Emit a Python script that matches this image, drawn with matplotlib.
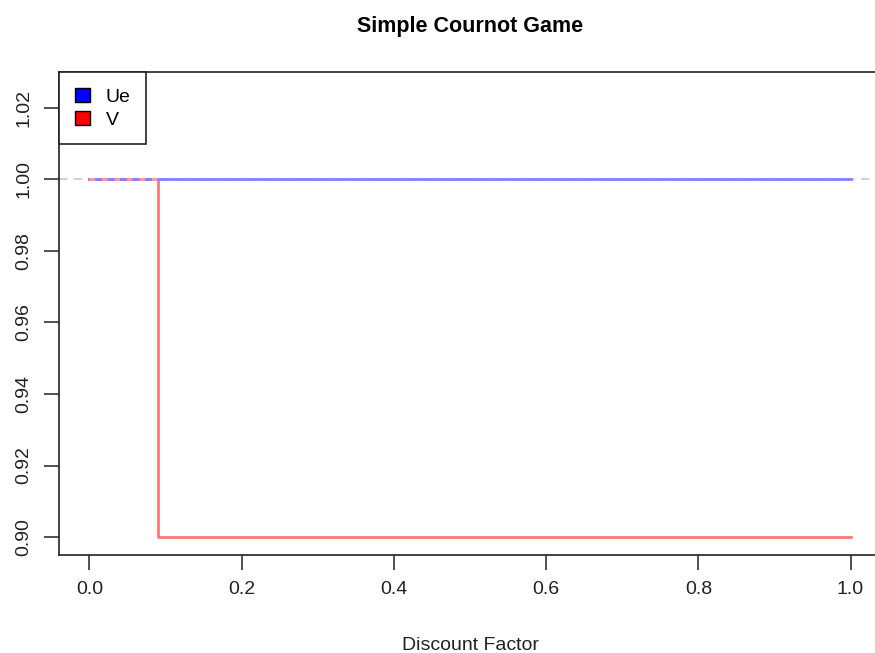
import numpy as np
import matplotlib.pyplot as plt
from matplotlib.patches import Patch

plt.rcParams['font.family'] = ['Liberation Sans', 'DejaVu Sans']

# data
ue_x = [0.0, 1.0]
ue_y = [1.0, 1.0]
v_x = [0.0, 0.09, 1.0]
v_y = [1.0, 0.9, 0.9]
x_ticks = [0.0, 0.2, 0.4, 0.6, 0.8, 1.0]
x_labels = ['0.0', '0.2', '0.4', '0.6', '0.8', '1.0']
y_ticks = [0.90, 0.92, 0.94, 0.96, 0.98, 1.00, 1.02]
y_labels = ['0.90', '0.92', '0.94', '0.96', '0.98', '1.00', '1.02']

fig = plt.figure(figsize=(8.75, 6.53), dpi=100)
W, H = 875, 653
left, right, top, bottom = 59, 881, 72, 555
ax = fig.add_axes([left / W, 1 - bottom / H, (right - left) / W, (bottom - top) / H])

ax.axhline(1.0, color='#d3d3d3', lw=1.5, ls=(0, (4, 3)), zorder=1)
ax.plot(v_x, v_y, drawstyle='steps-post', color='#ff7777', lw=2, zorder=2)
ax.plot(ue_x, ue_y, color='#8080ff', lw=2, zorder=3)
# red dashes showing through on the shared segment
ax.plot(v_x[:2], v_y[:1] * 2, color='#ff9a9a', lw=2, ls=(0, (2, 2.5)), zorder=4)

ax.set_xlim(-0.04, 1.04)
ax.set_ylim(0.895, 1.03)
ax.set_xticks(x_ticks)
ax.set_xticklabels(x_labels)
ax.set_yticks(y_ticks)
ax.set_yticklabels(y_labels, rotation=90, va='center')
ax.tick_params(length=11, width=1.2, color='#333333', labelsize=14, pad=8, labelcolor='#222222')
for s in ax.spines.values():
    s.set_linewidth(1.2)
    s.set_color('#222222')

ax.set_xlabel('Discount Factor', fontsize=14, labelpad=28, color='#222222')
ax.set_title('Simple Cournot Game', fontsize=15.5, fontweight='bold', pad=29)

handles = [Patch(facecolor='blue', edgecolor='black', label='Ue'),
           Patch(facecolor='red', edgecolor='black', label='V')]
leg = ax.legend(handles=handles, loc='upper left', bbox_to_anchor=(0, 1), fontsize=14,
                fancybox=False, framealpha=1, edgecolor='#222222', borderaxespad=0,
                handlelength=0.8, handleheight=0.8, handletextpad=0.8, labelspacing=0.25,
                borderpad=0.8)
leg.get_frame().set_linewidth(1.2)

plt.savefig('out.png', dpi=100)
